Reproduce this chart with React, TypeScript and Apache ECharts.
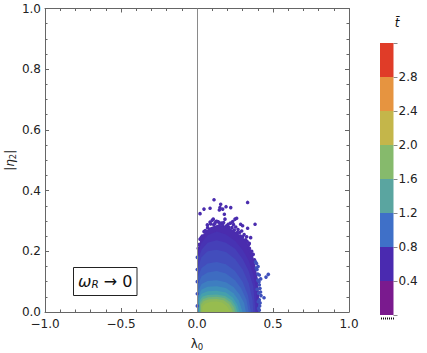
import React, { useEffect, useRef } from "react";
import * as echarts from "echarts";

const FONT = "'DejaVu Sans'";
const barLevels = ["0.0-0.4", "0.4-0.8", "0.8-1.2", "1.2-1.6", "1.6-2.0", "2.0-2.4", "2.4-2.8", "2.8-3.2"];
const barStep = [0.4, 0.4, 0.4, 0.4, 0.4, 0.4, 0.4, 0.4];
const barColors = ["#7a1a8e", "#4a2ab0", "#3f70c8", "#5aa5a0", "#86ba6c", "#c4b64a", "#e69440", "#e03c28"];

// density contours of the point cloud, outermost first (lambda0, |eta2|)
const ringColors = ["#4a2cae", "#4733b3", "#4540b8", "#424dbc", "#3f5cc0", "#3e6cc1", "#3e7ec0", "#3f90ba", "#45a0ac", "#5aab95", "#75b277", "#8db85a", "#97bc4f"];
const rings: number[][][] = [
  [[0.004, 0], [0.004, 0.2], [0.02, 0.235], [0.04, 0.255], [0.08, 0.278], [0.14, 0.288], [0.2, 0.282], [0.26, 0.263], [0.316, 0.24], [0.35, 0.212], [0.37, 0.183], [0.385, 0.15], [0.4, 0.11], [0.41, 0.05], [0.405, 0]],
  [[0.004, 0], [0.004, 0.185], [0.025, 0.225], [0.07, 0.253], [0.13, 0.265], [0.19, 0.255], [0.25, 0.235], [0.3, 0.205], [0.34, 0.17], [0.37, 0.125], [0.39, 0.07], [0.395, 0]],
  [[0.005, 0], [0.005, 0.17], [0.03, 0.205], [0.07, 0.228], [0.13, 0.236], [0.19, 0.228], [0.25, 0.208], [0.3, 0.175], [0.34, 0.135], [0.37, 0.085], [0.385, 0]],
  [[0.006, 0], [0.006, 0.145], [0.03, 0.18], [0.07, 0.2], [0.13, 0.205], [0.19, 0.198], [0.25, 0.175], [0.3, 0.14], [0.34, 0.095], [0.365, 0.04], [0.37, 0]],
  [[0.006, 0], [0.006, 0.115], [0.03, 0.145], [0.07, 0.16], [0.13, 0.165], [0.19, 0.157], [0.25, 0.135], [0.3, 0.1], [0.335, 0.055], [0.355, 0]],
  [[0.006, 0], [0.006, 0.09], [0.03, 0.118], [0.07, 0.13], [0.13, 0.135], [0.19, 0.127], [0.25, 0.105], [0.29, 0.078], [0.325, 0.04], [0.34, 0]],
  [[0.008, 0], [0.008, 0.07], [0.03, 0.092], [0.07, 0.102], [0.13, 0.105], [0.19, 0.098], [0.24, 0.082], [0.28, 0.058], [0.31, 0.03], [0.322, 0]],
  [[0.01, 0], [0.01, 0.055], [0.03, 0.074], [0.07, 0.083], [0.13, 0.085], [0.19, 0.079], [0.24, 0.062], [0.275, 0.038], [0.3, 0]],
  [[0.012, 0], [0.012, 0.045], [0.03, 0.06], [0.07, 0.068], [0.13, 0.07], [0.19, 0.064], [0.235, 0.048], [0.265, 0.025], [0.28, 0]],
  [[0.016, 0], [0.016, 0.036], [0.035, 0.05], [0.07, 0.056], [0.13, 0.058], [0.185, 0.053], [0.23, 0.038], [0.255, 0.018], [0.265, 0]],
  [[0.02, 0], [0.02, 0.03], [0.04, 0.043], [0.075, 0.049], [0.13, 0.05], [0.18, 0.046], [0.22, 0.032], [0.245, 0.014], [0.25, 0]],
  [[0.026, 0], [0.026, 0.024], [0.045, 0.036], [0.08, 0.042], [0.13, 0.043], [0.175, 0.039], [0.21, 0.026], [0.23, 0.01], [0.235, 0]],
  [[0.035, 0], [0.035, 0.018], [0.055, 0.028], [0.09, 0.034], [0.13, 0.035], [0.165, 0.031], [0.195, 0.02], [0.215, 0.006], [0.218, 0]],
];

// individual points scattered above and around the dense cloud
const upperPoints = [
  [0.112, 0.37], [0.333, 0.361], [0.156, 0.355], [0.191, 0.347], [0.222, 0.344], [0.046, 0.339], [0.086, 0.342],
  [0.147, 0.336], [0.169, 0.339], [0.18, 0.322], [0.02, 0.324], [0.151, 0.344], [0.382, 0.289], [0.333, 0.276],
  [0.107, 0.306], [0.184, 0.306], [0.25, 0.306], [0.124, 0.298], [0.235, 0.298], [0.261, 0.309], [0.068, 0.287],
  [0.086, 0.296], [0.14, 0.297], [0.287, 0.289], [0.3, 0.284], [0.294, 0.267], [0.046, 0.265], [0.327, 0.248],
  [0.353, 0.245], [0.344, 0.226], [0.37, 0.19], [0.1, 0.302], [0.118, 0.292], [0.13, 0.299], [0.16, 0.293],
  [0.175, 0.295], [0.205, 0.289], [0.22, 0.293], [0.24, 0.288], [0.255, 0.28], [0.27, 0.272], [0.28, 0.262],
  [0.31, 0.255], [0.32, 0.238], [0.345, 0.21], [0.36, 0.2], [0.07, 0.278], [0.035, 0.25], [0.02, 0.24],
  [0.012, 0.222], [0.055, 0.268], [0.09, 0.29], [0.15, 0.292], [0.195, 0.284], [0.23, 0.278], [0.265, 0.262],
  [0.3, 0.248], [0.34, 0.222], [0.36, 0.19], [0.378, 0.172], [0.028, 0.245], [0.008, 0.21],
  [0.11, 0.288], [0.17, 0.286], [0.21, 0.279], [0.245, 0.27], [0.285, 0.25], [0.33, 0.232], [0.352, 0.198],
];
const lowerPoints = [
  [0.469, 0.124], [0.454, 0.115], [0.419, 0.109], [0.41, 0.122], [0.414, 0.078], [0.441, 0.047], [0.421, 0.054],
  [0.403, 0.034], [0.395, 0.14], [0.4, 0.125], [0.392, 0.16], [0.385, 0.165], [0.408, 0.1], [0.41, 0.09],
  [0.418, 0.066], [0.405, 0.062], [0.41, 0.04], [0.412, 0.02], [0.405, 0.012], [0.41, 0.006], [0.002, 0.18],
  [0.002, 0.14], [0.002, 0.1], [0.002, 0.06], [0.002, 0.02], [0.39, 0.145], [0.4, 0.105], [0.395, 0.075],
  [0.402, 0.15], [0.415, 0.03],
];

const ringRender = (params: any, api: any) => ({
  type: "polygon",
  shape: { points: rings[params.dataIndex].map((p) => api.coord(p)) },
  style: { fill: ringColors[params.dataIndex] },
});

const axisLine = { show: true, onZero: false, lineStyle: { color: "#666", width: 1 } };
const mainLabel = { fontFamily: FONT, fontSize: 12, color: "#222" };

export default function App() {
  const ref = useRef<HTMLDivElement>(null);
  useEffect(() => {
    const chart = echarts.init(ref.current!, null, { renderer: "svg" });
    const tickInside = (len: number) => ({ show: true, inside: true, length: len, lineStyle: { color: "#666" } });
    const minorInside = { show: true, splitNumber: 5, length: 2.5, lineStyle: { color: "#666" } };
    chart.setOption({
      animation: false,
      backgroundColor: "#fff",
      grid: [
        { left: 45, top: 8.5, width: 304, height: 303.5, outerBoundsMode: "none" },
        { left: 380, top: 43, width: 13.5, height: 272, outerBoundsMode: "none" },
      ],
      xAxis: [
        {
          type: "value", gridIndex: 0, min: -1, max: 1, interval: 0.5,
          axisLine, axisTick: tickInside(4), minorTick: minorInside, splitLine: { show: false },
          axisLabel: { ...mainLabel, margin: 6, formatter: (v: number) => (v < 0 ? "\u2212" : "") + Math.abs(v).toFixed(1) },
          name: "{a|\u03bb}{b|0}", nameLocation: "middle", nameGap: 25, nameMoveOverlap: false,
          nameTextStyle: {
            rich: {
              a: { fontFamily: FONT, fontSize: 12, color: "#222" },
              b: { fontFamily: FONT, fontSize: 8.5, color: "#222", padding: [5, 0, 0, 0] },
            },
          },
        },
        {
          type: "value", gridIndex: 0, position: "top", min: -1, max: 1, interval: 0.5,
          axisLine, axisTick: tickInside(4), minorTick: minorInside, axisLabel: { show: false }, splitLine: { show: false },
        },
        { type: "category", gridIndex: 1, data: ["t"], axisLine: { show: false }, axisTick: { show: false }, axisLabel: { show: false } },
      ],
      yAxis: [
        {
          type: "value", gridIndex: 0, min: 0, max: 1, interval: 0.2,
          axisLine, axisTick: tickInside(4), minorTick: { ...minorInside, splitNumber: 4 }, splitLine: { show: false },
          axisLabel: { ...mainLabel, margin: 4, formatter: (v: number) => v.toFixed(1) },
          name: "{a||}{i|\u03b7}{b|2}{a||}", nameLocation: "middle", nameGap: 28, nameRotate: 90, nameMoveOverlap: false,
          nameTextStyle: {
            rich: {
              a: { fontFamily: FONT, fontSize: 12, color: "#222" },
              i: { fontFamily: FONT, fontSize: 12, fontStyle: "italic", color: "#222" },
              b: { fontFamily: FONT, fontSize: 8.5, color: "#222", padding: [5, 0, 0, 0] },
            },
          },
        },
        {
          type: "value", gridIndex: 0, position: "right", min: 0, max: 1, interval: 0.2,
          axisLine, axisTick: tickInside(4), minorTick: { ...minorInside, splitNumber: 4 }, axisLabel: { show: false }, splitLine: { show: false },
        },
        {
          type: "value", gridIndex: 1, position: "right", min: 0, max: 3.2, interval: 0.4,
          axisLine: { show: false }, axisTick: { show: true, length: 4, lineStyle: { color: "#888" } }, splitLine: { show: false },
          axisLabel: { ...mainLabel, margin: 5, formatter: (v: number) => (v < 0.1 || v > 3 ? "" : v.toFixed(1)) },
        },
      ],
      series: [
        {
          type: "custom", xAxisIndex: 0, yAxisIndex: 0, renderItem: ringRender,
          data: rings.map((_, i) => [i]), silent: true, z: 2,
        },
        {
          type: "scatter", xAxisIndex: 0, yAxisIndex: 0, data: upperPoints, symbolSize: 3.6,
          itemStyle: { color: "#4a2cae", opacity: 1 }, z: 3, silent: true,
          markLine: {
            silent: true, symbol: "none", label: { show: false }, z: 4,
            lineStyle: { color: "#8a8a8a", type: "solid", width: 1 }, data: [{ xAxis: 0 }],
          },
        },
        {
          type: "scatter", xAxisIndex: 0, yAxisIndex: 0, data: lowerPoints, symbolSize: 3.6,
          itemStyle: { color: "#3f50bc", opacity: 1 }, z: 3, silent: true,
        },
        ...barLevels.map((name, i) => ({
          type: "bar", name, xAxisIndex: 2, yAxisIndex: 2, stack: "t", barWidth: "100%",
          data: [barStep[i]], itemStyle: { color: barColors[i] }, silent: true,
        })),
      ],
      graphic: [
        { type: "rect", shape: { x: 73.5, y: 267.5, width: 63.5, height: 28 }, style: { fill: "#fff", stroke: "#222", lineWidth: 1 }, z: 10 },
        {
          type: "text", x: 78, y: 281, z: 11,
          style: {
            text: "{w|\u03c9}{s|R}{a| \u2192 0}", verticalAlign: "middle",
            rich: {
              w: { fontFamily: FONT, fontSize: 16, fontStyle: "italic", fill: "#111" },
              s: { fontFamily: FONT, fontSize: 10.5, fontStyle: "italic", fill: "#111", padding: [5, 0, 0, 0] },
              a: { fontFamily: FONT, fontSize: 16, fill: "#111" },
            },
          },
        },
        { type: "text", x: 397, y: 23, z: 11, style: { text: "t\u0304", fontFamily: FONT, fontSize: 12, fontStyle: "italic", fill: "#111", align: "center", verticalAlign: "middle" } },
        { type: "line", shape: { x1: 381, y1: 318.5, x2: 394, y2: 318.5 }, style: { stroke: "#111", lineWidth: 2, lineDash: [1, 1] }, z: 11 },
      ],
    });
    return () => chart.dispose();
  }, []);
  return <div ref={ref} style={{ width: 427, height: 353, position: "absolute", left: 0, top: 0 }} />;
}
